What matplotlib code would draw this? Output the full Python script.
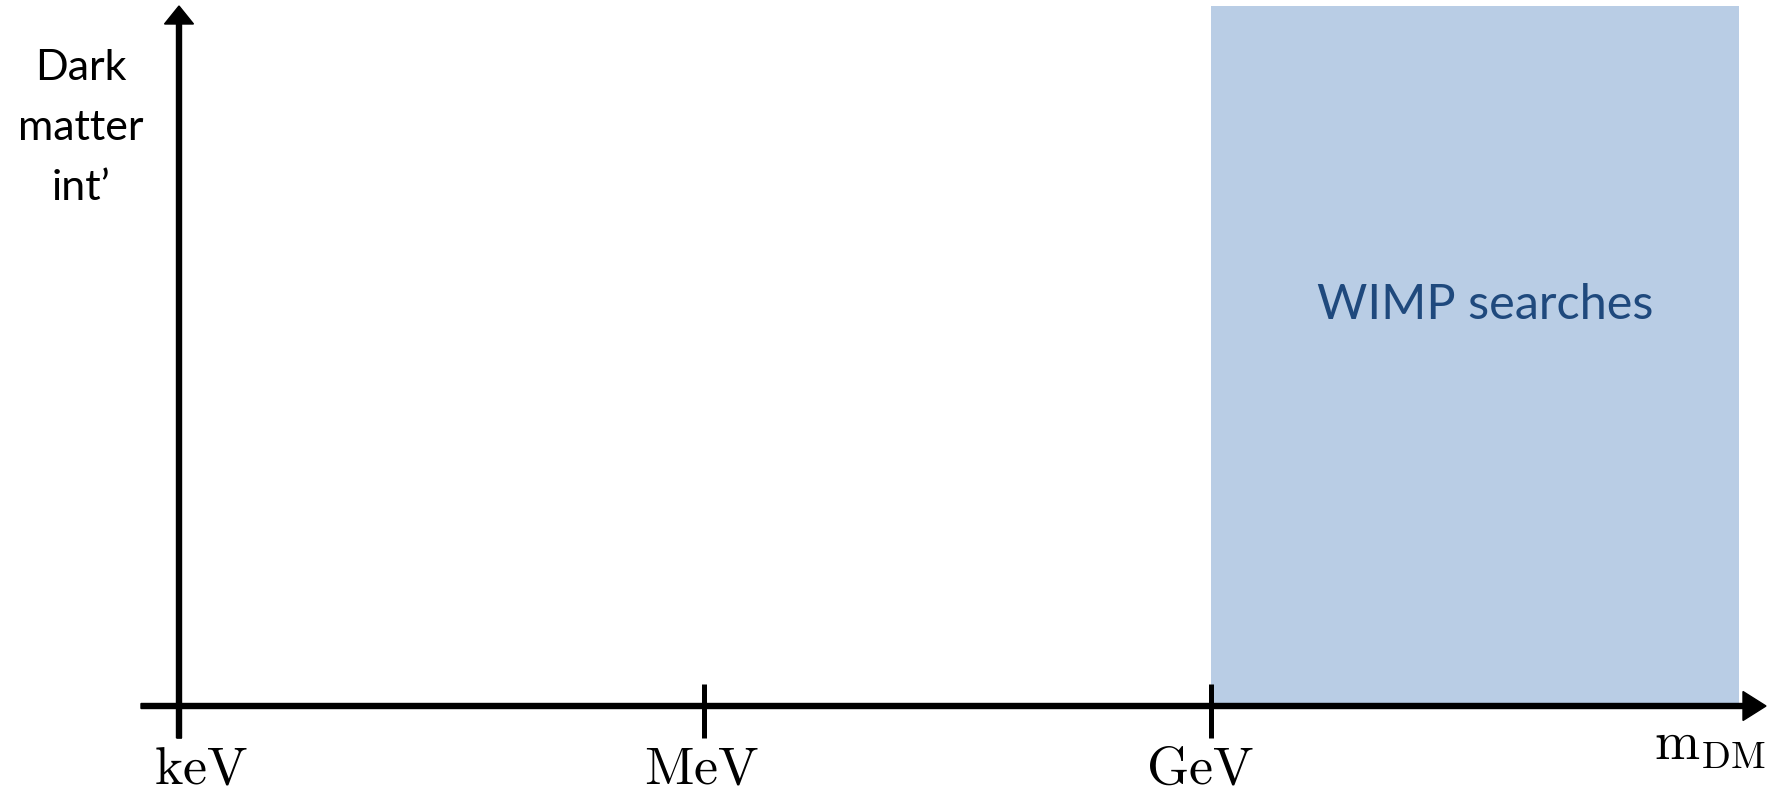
import matplotlib.pyplot as plt

# Escala de masas (posiciones en el eje, unidades arbitrarias)
escala = ['keV', 'MeV', 'GeV']
escala_x = [0, 525, 1032]
etiquetas_x = [-25, 465, 967]

# Region de busquedas WIMP
region = 'WIMP searches'
region_x = [1032, 1560]
region_alto = 700

ylabel = ['Dark', 'matter', 'int\u2019']
xlabel = r'$\mathrm{m}_{\mathrm{DM}}$'

plt.rcParams['mathtext.fontset'] = 'cm'

fig = plt.figure(figsize=(17.78, 7.96), dpi=100)
ax = fig.add_axes([0, 0, 1, 1])
ax.set_xlim(-179, 1778 - 179)
ax.set_ylim(-90, 706)
ax.axis('off')

# Rectangulo de la region
ax.bar(region_x[0], region_alto, width=region_x[1] - region_x[0], align='edge',
       color='#b9cde5', zorder=1)
ax.text((region_x[0] + region_x[1]) / 2 + 10, 401, region, ha='center', va='center',
        fontsize=35, family='Lato', color='#1f497d', zorder=2)

# Ejes con flechas
ax.arrow(0, -32, 0, 732, width=5, head_width=29, head_length=18,
         length_includes_head=True, color='black', zorder=3)
ax.arrow(-38, 0, 1625, 0, width=5, head_width=29, head_length=23,
         length_includes_head=True, color='black', zorder=3)

# Marcas y etiquetas
for x, xt, lab in zip(escala_x, etiquetas_x, escala):
    ax.plot([x, x], [-32, 22], color='black', lw=3.6, solid_capstyle='butt', zorder=3)
    ax.text(xt, 706 - 784, r'$\mathrm{' + lab + '}$', ha='left', va='baseline',
            fontsize=39)

ax.text(1531, 706 - 760, xlabel, ha='center', va='baseline', fontsize=39)
for i, linea in enumerate(ylabel):
    ax.text(-98, 706 - 80 - 60 * i, linea, ha='center', va='baseline', fontsize=31,
            family='Lato')

plt.savefig('out.png', dpi=100)
